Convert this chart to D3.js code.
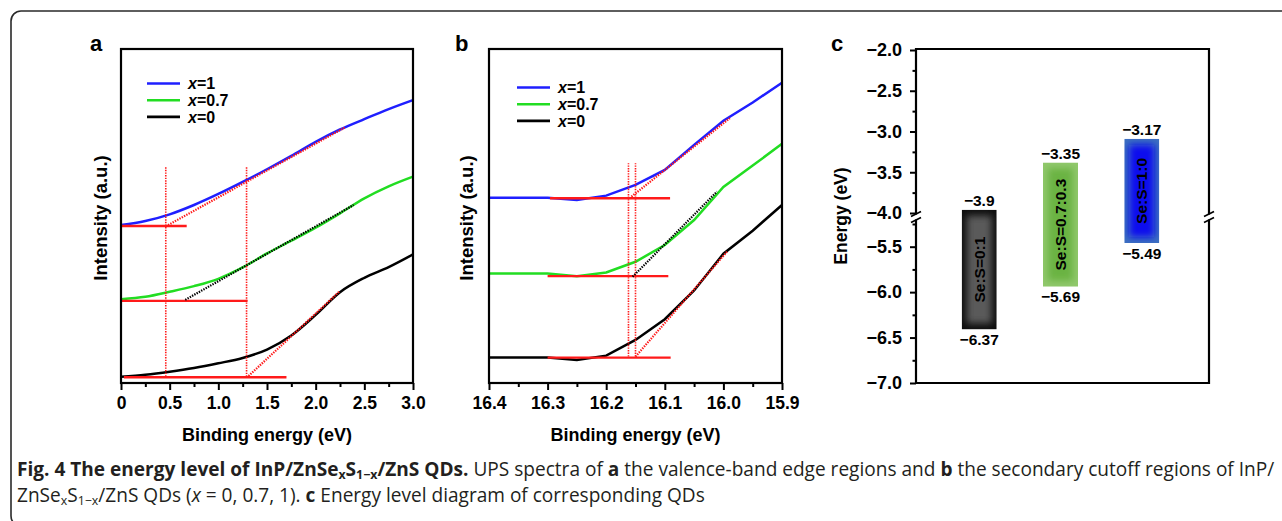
<!DOCTYPE html>
<html>
<head>
<meta charset="utf-8">
<script src="https://cdn.jsdelivr.net/npm/d3@7"></script>
<style>
  body { margin: 0; background: #fff; }
  svg { display: block; font-family: "Liberation Sans", Arial, sans-serif; }
</style>
</head>
<body>
<svg id="fig" width="1282" height="521"></svg>
<script>
// ---- data ----
const seriesNames = ['1', '0.7', '0']
const seriesColors = ['#1f1fff', '#22dd22', '#000000']
const tangentColors = ['#ff1a1a', '#000000', '#ff1a1a']

// panel a: valence-band edge (binding energy, eV)
const aEnergy = [0, 0.25, 0.5, 0.75, 1.0, 1.25, 1.5, 1.75, 2.0, 2.25, 2.5, 2.75, 3.0]
const aBlue  = [47.3, 48.5, 50.5, 53.3, 56.6, 60.2, 64.0, 68.0, 72.2, 75.9, 79.0, 82.0, 84.7]
const aGreen = [25.1, 25.8, 27.3, 29.0, 31.2, 34.6, 38.8, 42.6, 46.5, 50.8, 55.3, 58.9, 61.8]
const aBlack = [1.9, 2.5, 3.4, 4.5, 5.9, 7.5, 10.0, 14.2, 20.4, 27.2, 31.5, 34.7, 38.5]
const aBaselines = [[0, 0.675, 47.0], [0, 1.3, 24.6], [0.03, 1.7, 1.7]]
const aTangents = [[0.46, 46.9, 2.30, 76.5], [0.66, 24.9, 2.39, 53.3], [1.31, 2.1, 2.24, 27.3]]
const aOnsets = [0.46, 1.29]
const aOnsetRange = [1.9, 64.7]

// panel b: secondary cutoff (binding energy, eV)
const bEnergy = [16.4, 16.35, 16.3, 16.25, 16.2, 16.15, 16.1, 16.05, 16.0, 15.95, 15.9]
const bBlue  = [55.5, 55.5, 55.5, 54.8, 56.1, 59.3, 63.8, 71.3, 78.5, 84.0, 89.9]
const bGreen = [32.8, 32.8, 32.8, 32.0, 33.1, 36.3, 41.3, 48.8, 58.7, 65.1, 71.6]
const bBlack = [7.6, 7.6, 7.6, 6.9, 8.2, 12.9, 19.1, 27.7, 38.7, 45.6, 53.3]
const bBaselines = [[16.296, 16.091, 55.3], [16.3, 16.094, 32.0], [16.3, 16.09, 7.6]]
const bTangents = [[16.157, 55.8, 15.989, 79.3], [16.155, 31.8, 16.011, 57.3], [16.15, 7.9, 15.994, 39.3]]
const bOnsets = [16.162, 16.15]
const bOnsetRange = [7.9, 65.8]

// panel c: energy levels (eV)
const bandNames = ['Se:S=0:1', 'Se:S=0.7:0.3', 'Se:S=1:0']
const cbmLabels = [-3.9, -3.35, -3.17]
const vbmLabels = [-6.37, -5.69, -5.49]
const barTop = [-3.96, -3.38, -3.09]      // drawn extents as read on the axis
const barBottom = [-6.41, -5.94, -5.46]
const bandEdge = ['#0e0e0e', '#90c86c', '#3c6fc0']
const bandCore = ['#5a5a5a', '#6bb342', '#0a10ee']

const svg = d3.select('#fig')
const TOP = 49, BOTTOM = 383

// outer frame
svg.append('path')
    .attr('d', 'M1300,11 H21 A10,10 0 0 0 11,21 V516 A10,10 0 0 0 21,526')
    .attr('fill', 'none').attr('stroke', '#2a2a2a').attr('stroke-width', 1.6)

function spectraPanel(o) {
    const g = svg.append('g')
    const x = d3.scaleLinear().domain(o.xDomain).range([o.left, o.right])
    const y = d3.scaleLinear().domain([0, 100]).range([BOTTOM, TOP])

    // curves
    const line = d3.line().x(d => x(d[0])).y(d => y(d[1])).curve(o.curve)
    o.series.forEach((vals, i) => {
        g.append('path')
            .datum(o.energy.map((e, k) => [e, vals[k]]))
            .attr('d', line)
            .attr('fill', 'none')
            .attr('stroke', seriesColors[i])
            .attr('stroke-width', 2.5)
    })

    // onset construction lines
    o.onsets.forEach(e => {
        g.append('line')
            .attr('x1', x(e)).attr('x2', x(e))
            .attr('y1', y(o.onsetRange[0])).attr('y2', y(o.onsetRange[1]))
            .attr('stroke', '#ff1a1a').attr('stroke-width', 1.6)
            .attr('stroke-dasharray', '1.4,1.2')
    })
    o.baselines.forEach(b => {
        g.append('line')
            .attr('x1', x(b[0])).attr('x2', x(b[1]))
            .attr('y1', y(b[2])).attr('y2', y(b[2]))
            .attr('stroke', '#ff1a1a').attr('stroke-width', 2.4)
    })
    o.tangents.forEach((t, i) => {
        g.append('line')
            .attr('x1', x(t[0])).attr('y1', y(t[1]))
            .attr('x2', x(t[2])).attr('y2', y(t[3]))
            .attr('stroke', tangentColors[i]).attr('stroke-width', 2.2)
            .attr('stroke-dasharray', '1.4,1.2')
    })

    // axis
    const ax = g.append('g').attr('transform', `translate(0,${BOTTOM})`)
    ax.call(d3.axisBottom(x).tickValues(o.majors).tickSize(7).tickSizeOuter(0)
        .tickPadding(7).tickFormat(o.fmt))
    ax.select('.domain').remove()
    ax.selectAll('line').attr('stroke', '#000').attr('stroke-width', 2)
    ax.selectAll('text').attr('font-size', 17.5).attr('font-weight', 'bold').attr('fill', '#000')
    const mx = g.append('g').attr('transform', `translate(0,${BOTTOM})`)
    mx.call(d3.axisBottom(x).tickValues(o.minors).tickSize(4).tickSizeOuter(0).tickFormat(''))
    mx.select('.domain').remove()
    mx.selectAll('line').attr('stroke', '#000').attr('stroke-width', 2)

    g.append('rect')
        .attr('x', o.left).attr('y', TOP)
        .attr('width', o.right - o.left).attr('height', BOTTOM - TOP)
        .attr('fill', 'none').attr('stroke', '#000').attr('stroke-width', 2.2)

    // legend
    seriesNames.forEach((n, i) => {
        const ly = o.legendY + i * 16.7
        g.append('line')
            .attr('x1', o.legendX).attr('x2', o.legendX + 33)
            .attr('y1', ly).attr('y2', ly)
            .attr('stroke', seriesColors[i]).attr('stroke-width', 2.6)
        const t = g.append('text')
            .attr('x', o.legendX + 41).attr('y', ly)
            .attr('dy', '0.36em')
            .attr('font-size', 16).attr('font-weight', 'bold')
        t.append('tspan').attr('font-style', 'italic').text('x')
        t.append('tspan').text('=' + n)
    })

    // titles
    g.append('text')
        .attr('x', (o.left + o.right) / 2).attr('y', 441)
        .attr('text-anchor', 'middle').attr('font-size', 18).attr('font-weight', 'bold')
        .text('Binding energy (eV)')
    g.append('text')
        .attr('transform', `translate(${o.yTitleX},${(TOP + BOTTOM) / 2 + 2}) rotate(-90)`)
        .attr('text-anchor', 'middle').attr('dy', '0.36em')
        .attr('font-size', 18.5).attr('font-weight', 'bold')
        .text('Intensity (a.u.)')
    g.append('text')
        .attr('x', o.tagX).attr('y', 51)
        .attr('font-size', 22).attr('font-weight', 'bold')
        .text(o.tag)
}

spectraPanel({
    left: 121, right: 413, xDomain: [0, 3],
    energy: aEnergy, series: [aBlue, aGreen, aBlack], curve: d3.curveMonotoneX,
    baselines: aBaselines, tangents: aTangents, onsets: aOnsets, onsetRange: aOnsetRange,
    majors: d3.range(0, 3.01, 0.5), minors: d3.range(0.25, 3, 0.5),
    fmt: d => d === 0 ? '0' : d3.format('.1f')(d),
    legendX: 147, legendY: 83.5, yTitleX: 100, tag: 'a', tagX: 90
})

spectraPanel({
    left: 489, right: 782, xDomain: [16.4, 15.9],
    energy: bEnergy, series: [bBlue, bGreen, bBlack], curve: d3.curveLinear,
    baselines: bBaselines, tangents: bTangents, onsets: bOnsets, onsetRange: bOnsetRange,
    majors: [16.4, 16.3, 16.2, 16.1, 16.0, 15.9], minors: [16.35, 16.25, 16.15, 16.05, 15.95],
    fmt: d3.format('.1f'),
    legendX: 517, legendY: 87.5, yTitleX: 466, tag: 'b', tagX: 455
})

// ---- panel c ----
const cL = 916, cR = 1209
const yUp = d3.scaleLinear().domain([-2, -4]).range([50, 213])
const yLow = d3.scaleLinear().domain([-5.5, -7]).range([246.7, 383])
const yE = e => e > -4.05 ? yUp(e) : yLow(e)
const xC = d3.scalePoint().domain(bandNames).range([915, 1206]).padding(0.79)
const gc = svg.append('g')

function energyAxis(scale, majors, minors) {
    const a = gc.append('g').attr('transform', `translate(${cL},0)`)
    a.call(d3.axisLeft(scale).tickValues(majors).tickSize(6).tickPadding(8)
        .tickFormat(d3.format('.1f')))
    a.select('.domain').remove()
    a.selectAll('line').attr('stroke', '#000').attr('stroke-width', 2)
    a.selectAll('text').attr('font-size', 18).attr('font-weight', 'bold').attr('fill', '#000')
    const m = gc.append('g').attr('transform', `translate(${cL},0)`)
    m.call(d3.axisLeft(scale).tickValues(minors).tickSize(3.5).tickFormat(''))
    m.select('.domain').remove()
    m.selectAll('line').attr('stroke', '#000').attr('stroke-width', 2)
}
energyAxis(yUp, [-2, -2.5, -3, -3.5, -4], [-2.25, -2.75, -3.25, -3.75])
energyAxis(yLow, [-5.5, -6, -6.5, -7], [-5.25, -5.75, -6.25, -6.75])

// frame with broken sides
const gapA = 214.5, gapB = 219.5
gc.append('path')
    .attr('d', `M${cL},${gapA} V${TOP} H${cR} V${gapA} M${cL},${gapB} V${BOTTOM} H${cR} V${gapB}`)
    .attr('fill', 'none').attr('stroke', '#000').attr('stroke-width', 2.2)
;[cL, cR].forEach(xx => {
    gc.append('line').attr('x1', xx - 5).attr('y1', gapA + 2).attr('x2', xx + 5).attr('y2', gapA - 3)
        .attr('stroke', '#000').attr('stroke-width', 1.8)
    gc.append('line').attr('x1', xx - 5).attr('y1', gapB + 3).attr('x2', xx + 5).attr('y2', gapB - 2)
        .attr('stroke', '#000').attr('stroke-width', 1.8)
})

// bands
const defs = svg.append('defs')
defs.append('filter').attr('id', 'soft')
    .attr('x', '-50%').attr('y', '-50%').attr('width', '200%').attr('height', '200%')
    .append('feGaussianBlur').attr('stdDeviation', 3.5)
const barW = 35
bandNames.forEach((n, i) => {
    const x0 = xC(n) - barW / 2
    const y0 = yE(barTop[i]), y1 = yE(barBottom[i])
    defs.append('clipPath').attr('id', 'clip' + i)
        .append('rect').attr('x', x0).attr('y', y0).attr('width', barW).attr('height', y1 - y0)
    const bg = gc.append('g').attr('clip-path', `url(#clip${i})`)
    bg.append('rect').attr('x', x0).attr('y', y0).attr('width', barW).attr('height', y1 - y0)
        .attr('fill', bandEdge[i])
    bg.append('rect').attr('x', x0 + 5).attr('y', y0 + 6).attr('width', barW - 10).attr('height', y1 - y0 - 12)
        .attr('fill', bandCore[i]).attr('filter', 'url(#soft)')
    gc.append('text')
        .attr('transform', `translate(${xC(n)},${(y0 + y1) / 2}) rotate(-90)`)
        .attr('text-anchor', 'middle').attr('dy', '0.36em')
        .attr('font-size', 15.5).attr('font-weight', 'bold').attr('fill', '#000')
        .text(n)
    gc.append('text')
        .attr('x', xC(n)).attr('y', y0 - 9).attr('dy', '0.36em')
        .attr('text-anchor', 'middle').attr('font-size', 15.5).attr('font-weight', 'bold')
        .text(d3.format('')(cbmLabels[i]))
    gc.append('text')
        .attr('x', xC(n)).attr('y', y1 + 10).attr('dy', '0.36em')
        .attr('text-anchor', 'middle').attr('font-size', 15.5).attr('font-weight', 'bold')
        .text(d3.format('')(vbmLabels[i]))
})

gc.append('text')
    .attr('transform', `translate(841,${(TOP + BOTTOM) / 2}) rotate(-90)`)
    .attr('text-anchor', 'middle').attr('dy', '0.36em')
    .attr('font-size', 17.5).attr('font-weight', 'bold')
    .text('Energy (eV)')
gc.append('text').attr('x', 831).attr('y', 51)
    .attr('font-size', 22).attr('font-weight', 'bold').text('c')

// ---- caption ----
const capLine1 = [
    { t: 'Fig. 4 The energy level of InP/ZnSe', b: 1 }, { t: 'x', b: 1, sub: 1 }, { t: 'S', b: 1 },
    { t: '1−x', b: 1, sub: 1 }, { t: '/ZnS QDs.', b: 1 }, { t: ' UPS spectra of ' }, { t: 'a', b: 1 },
    { t: ' the valence-band edge regions and ' }, { t: 'b', b: 1 },
    { t: ' the secondary cutoff regions of InP/' }
]
const capLine2 = [
    { t: 'ZnSe' }, { t: 'x', sub: 1 }, { t: 'S' }, { t: '1−x', sub: 1 }, { t: '/ZnS QDs (' },
    { t: 'x', i: 1 }, { t: ' = 0, 0.7, 1). ' }, { t: 'c', b: 1 },
    { t: ' Energy level diagram of corresponding QDs' }
]
function caption(parts, yy, size) {
    const t = svg.append('text').attr('x', 17).attr('y', yy)
        .attr('font-family', '"Open Sans", "Noto Sans", sans-serif')
        .attr('font-size', size).attr('fill', '#231f20')
    parts.forEach(p => {
        const s = t.append('tspan').text(p.t)
        if (p.b) s.attr('font-weight', 'bold')
        if (p.i) s.attr('font-style', 'italic')
        if (p.sub) s.attr('font-size', size * 0.65).attr('baseline-shift', '-25%')
    })
    return t
}
// fit the first line to the width it takes in the figure
const c1 = caption(capLine1, 476, 17)
const fitSize = 17 * 1258 / c1.node().getComputedTextLength()
c1.remove()
caption(capLine1, 476, fitSize)
caption(capLine2, 502, fitSize)
</script>
</body>
</html>
